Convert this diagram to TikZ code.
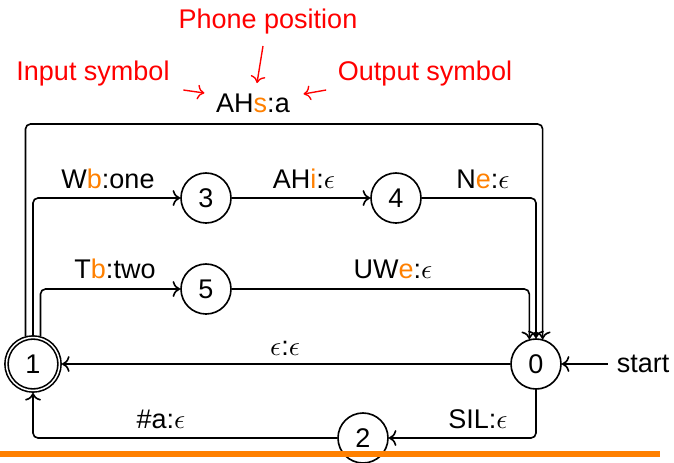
\documentclass[tikz,border=0pt]{standalone}
\usepackage{fontspec}
\setmainfont{Liberation Sans}
\usepackage{xcolor}
\usetikzlibrary{positioning, arrows.meta}
\newcommand{\ph}[1]{\textcolor{orange}{#1}}

\begin{document}
\begin{tikzpicture}[x=0.4pt, y=-0.4pt, font=\fontsize{10.8}{13}\selectfont, line width=0.65pt]
    % Define styles
    \tikzstyle{state} = [circle, draw, minimum size=20pt, inner sep=0pt]
    \tikzstyle{final} = [state, double, double distance=0.6pt, minimum size=21.2pt, outer sep=1pt]
    \tikzstyle{arrow} = [->, rounded corners=2pt]
    \tikzstyle{lbl} = [anchor=base, inner sep=0pt]
    \tikzstyle{note} = [lbl, text=red]
    \tikzstyle{notearrow} = [->, red, line width=0.55pt]

    \useasboundingbox (0,0) rectangle (674,462);

    % States
    \node [final] (n1) at (33,364) {1};
    \node [state] (n0) at (536,364) {0};
    \node [state] (n3) at (206,198) {3};
    \node [state] (n4) at (396,198) {4};
    \node [state] (n5) at (206,289) {5};
    \node [state] (n2) at (363,438) {2};
    \node [right=18.4pt of n0] (start) {start};
    \coordinate (top) at (283,124);

    % Edges
    \draw [arrow] (n1.105) |- (top) -| (n0.75);
    \draw [arrow] (n1.north) |- (n3);
    \draw [arrow] (n1.75) |- (n5);
    \draw [arrow] (n3) -- (n4);
    \draw [arrow] (n4) -| (n0.north);
    \draw [arrow] (n5) -| (n0.105);
    \draw [arrow] (n0) -- (n1);
    \draw [arrow] (n0) |- (n2);
    \draw [arrow] (n2) -| (n1);
    \draw [arrow] (start) -- (n0);

    % Edge labels
    \node [lbl] (ahs) at (253,112) {AH\ph{s}:a};
    \node [lbl] (lwb) at (108,188) {W\ph{b}:one};
    \node [lbl] (ltb) at (115,278) {T\ph{b}:two};
    \node [lbl] (lahi) at (304,188) {AH\ph{i}:$\epsilon$};
    \node [lbl] (lne) at (483,188) {N\ph{e}:$\epsilon$};
    \node [lbl] (luwe) at (393,278) {UW\ph{e}:$\epsilon$};
    \node [lbl] (leps) at (285,355) {$\epsilon$:$\epsilon$};
    \node [lbl] (lhash) at (161,428) {\#a:$\epsilon$};
    \node [lbl] (lsil) at (478,428) {SIL:$\epsilon$};

    % Notes
    \node [note] (insym) at (93,80) {Input symbol};
    \node [note] (phone) at (268,28) {Phone position};
    \node [note] (outsym) at (425,80) {Output symbol};
    \draw [notearrow] ([shift={(13,10)}]insym.base east) -- ([shift={(-11,-19)}]ahs.base west);
    \draw [notearrow] ([shift={(-5,18)}]phone.base) -- ([shift={(4,-29)}]ahs.base);
    \draw [notearrow] ([shift={(-11,10)}]outsym.base west) -- ([shift={(13,-18)}]ahs.base east);

    % Slide rule
    \fill [orange] (0,451) rectangle (660,457);
\end{tikzpicture}
\end{document}
